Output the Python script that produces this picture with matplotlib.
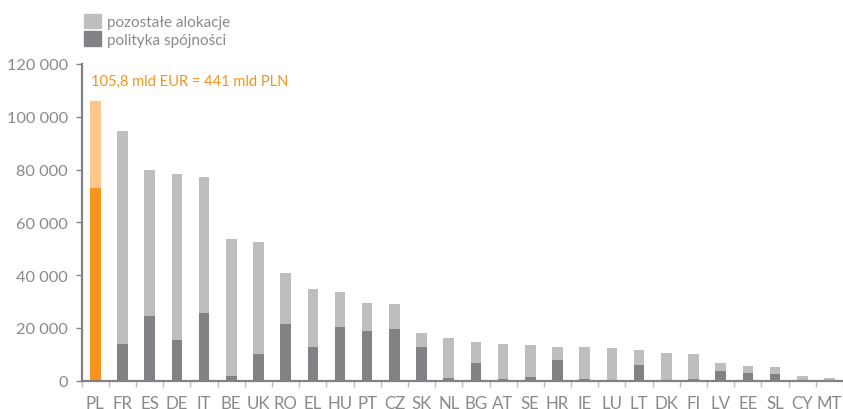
import numpy as np
import matplotlib.pyplot as plt
from matplotlib.ticker import FuncFormatter, FixedLocator

plt.rcParams['font.family'] = ['Lato', 'DejaVu Sans']

countries = ['PL', 'FR', 'ES', 'DE', 'IT', 'BE', 'UK', 'RO', 'EL', 'HU', 'PT', 'CZ',
             'SK', 'NL', 'BG', 'AT', 'SE', 'HR', 'IE', 'LU', 'LT', 'DK', 'FI', 'LV',
             'EE', 'SL', 'CY', 'MT']
# total allocation per country (mln EUR)
total = [105800, 94700, 79800, 78300, 77200, 53700, 52550, 40800, 34700, 33600,
         29440, 29060, 18070, 16180, 14660, 13900, 13530, 12770, 12770, 12390,
         11630, 10500, 10100, 6700, 5570, 5190, 1780, 1020]
# cohesion policy part (mln EUR)
cohesion = [73000, 13900, 24500, 15400, 25650, 1780, 10100, 21500, 12770, 20350,
            18830, 19590, 12770, 1000, 6700, 600, 1400, 7840, 700, 100,
            5950, 300, 600, 3680, 2900, 2540, 300, 200]
label_other = 'pozostałe alokacje'
label_cohesion = 'polityka spójności'
note = '105,8 mld EUR = 441 mld PLN'

total = np.array(total)
cohesion = np.array(cohesion)
other = total - cohesion

dark_grey = '#808285'
light_grey = '#BCBEC0'
dark_orange = '#F7941D'
light_orange = '#FDC68A'
text_grey = '#8A8A8A'

c_dark = [dark_orange] + [dark_grey] * (len(countries) - 1)
c_light = [light_orange] + [light_grey] * (len(countries) - 1)

fig = plt.figure(figsize=(8.43, 4.10), dpi=100)
ax = fig.add_axes([81.7 / 843, 28.3 / 410, 1 - 81.7 / 843, 316.7 / 410])

x = np.arange(len(countries))
w = 0.39
ax.bar(x, cohesion, w, color=c_dark, zorder=2)
ax.bar(x, other, w, bottom=cohesion, color=c_light, zorder=2)

ax.set_xlim(-0.5, len(countries) - 0.5)
ax.set_ylim(0, 120000)

for s in ['top', 'right']:
    ax.spines[s].set_visible(False)
for s in ['left', 'bottom']:
    ax.spines[s].set_color(dark_grey)
    ax.spines[s].set_linewidth(1.6)
    ax.spines[s].set_zorder(3)

ax.set_yticks(np.arange(0, 120001, 20000))
ax.yaxis.set_major_formatter(FuncFormatter(lambda v, p: f'{int(v):,}'.replace(',', ' ')))
ax.tick_params(axis='y', length=4, width=1, color=dark_grey, labelcolor=text_grey,
               labelsize=11.8, pad=6)

ax.set_xticks(x)
ax.set_xticklabels(countries)
ax.xaxis.set_minor_locator(FixedLocator(np.arange(-0.5, len(countries), 1.0)))
ax.tick_params(axis='x', which='major', length=0, labelcolor=text_grey, labelsize=12.2, pad=10)
ax.tick_params(axis='x', which='minor', length=4.5, width=1, color=light_grey)

ax.text(-0.16, 113500, note, color=dark_orange, fontsize=10.5, va='center', ha='left')

h_other = plt.Rectangle((0, 0), 1, 1, color=light_grey)
h_coh = plt.Rectangle((0, 0), 1, 1, color=dark_grey)
fig.legend([h_other, h_coh], [label_other, label_cohesion],
           loc='upper left', bbox_to_anchor=(73 / 843, 1 - 4 / 410),
           frameon=False, fontsize=11, handlelength=1.1, handleheight=1.1,
           handletextpad=0.45, labelspacing=0.12, borderpad=0.2,
           labelcolor=text_grey)

fig.savefig('out.png', dpi=100)
